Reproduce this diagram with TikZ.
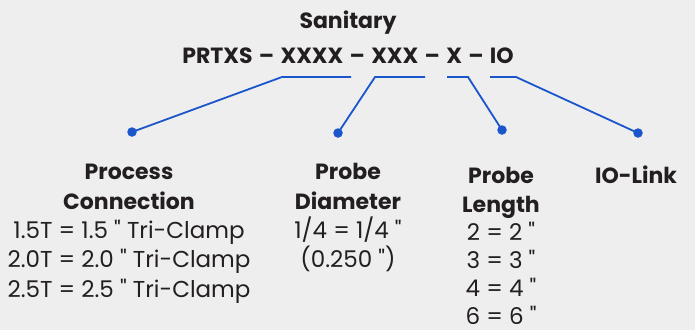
\documentclass[tikz,border=0pt]{standalone}
\usepackage{fontspec}
\setmainfont{Poppins}[Ligatures=TeXOff]
\definecolor{bgc}{HTML}{EEEEEE}
\definecolor{txt}{HTML}{231F20}
\definecolor{lnk}{HTML}{1A55CC}
\newcommand{\dsh}{\hspace{1.6pt} – \hspace{1.6pt}}
\begin{document}
\begin{tikzpicture}[x=1pt,y=-1pt,
  hdr/.style={anchor=base,inner sep=0pt,text=txt,font=\fontsize{22}{26}\selectfont\bfseries},
  val/.style={anchor=base,inner sep=0pt,text=txt,font=\fontsize{23}{27}\selectfont},
  dot/.style={circle,fill=lnk,inner sep=0pt,minimum size=9.5pt},
  wire/.style={draw=lnk,line width=1.8pt}]
\fill[bgc] (0,0) rectangle (695,330);
\useasboundingbox (0,0) rectangle (695,330);
% title
\node[hdr] (title) at (348,28) {Sanitary};
\node[hdr] (code) at (348,63) {PRTXS\dsh XXXX\dsh XXX\dsh X\dsh IO};
% connectors
\coordinate (b1) at (282,77); \coordinate (e1) at (351,77);
\coordinate (b2) at (375,77); \coordinate (e2) at (425,77);
\coordinate (e3) at (447,77); \coordinate (b3) at (468,77);
\coordinate (e4) at (490,77); \coordinate (b4) at (516,77);
\node[dot] (d1) at (132,132) {};
\node[dot] (d2) at (338,133) {};
\node[dot] (d3) at (502,130) {};
\node[dot] (d4) at (638,133) {};
\draw[wire] (d1.center) -- (b1) -- (e1);
\draw[wire] (d2.center) -- (b2) -- (e2);
\draw[wire] (d3.center) -- (b3) -- (e3);
\draw[wire] (d4.center) -- (b4) -- (e4);
% process connection
\node[hdr] (pc1) at (129,179) {Process};
\node[hdr] (pc2) at (129,209) {Connection};
\node[val] (pc3) at (129,238) {1.5T = 1.5 " Tri-Clamp};
\node[val] (pc4) at (129,267) {2.0T = 2.0 " Tri-Clamp};
\node[val] (pc5) at (129,297) {2.5T = 2.5 " Tri-Clamp};
% probe diameter
\node[hdr] (pd1) at (348,179) {Probe};
\node[hdr] (pd2) at (348,209) {Diameter};
\node[val] (pd3) at (348,238) {1/4 = 1/4 "};
\node[val] (pd4) at (348,267) {(0.250 ")};
% probe length
\node[hdr] (pl1) at (501,183) {Probe};
\node[hdr] (pl2) at (501,212) {Length};
\node[val] (pl3) at (501,240) {2 = 2 "};
\node[val] (pl4) at (501,268) {3 = 3 "};
\node[val] (pl5) at (501,296) {4 = 4 "};
\node[val] (pl6) at (501,324) {6 = 6 "};
% io-link
\node[hdr] (io) at (636,183) {IO-Link};
\end{tikzpicture}
\end{document}
